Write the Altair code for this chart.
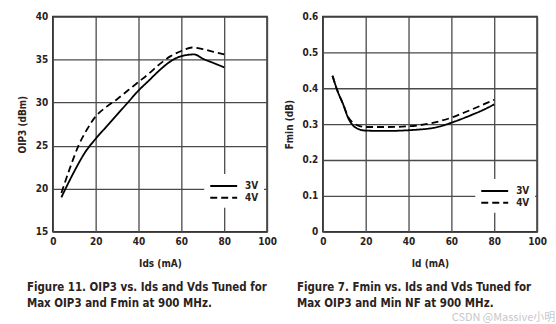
import altair as alt
import pandas as pd

# ---- data ----
oip3_x_3v = [4, 10, 15, 20, 25, 30, 35, 40, 45, 50, 55, 60, 66, 70, 75, 80]
oip3_y_3v = [19.0, 22.0, 24.2, 25.8, 27.2, 28.6, 30.0, 31.4, 32.6, 33.8, 34.8, 35.4, 35.6, 35.1, 34.6, 34.1]
oip3_x_4v = [4, 8, 12, 16, 20, 25, 30, 35, 40, 45, 50, 55, 60, 65, 70, 75, 80]
oip3_y_4v = [19.5, 22.4, 25.0, 26.9, 28.4, 29.5, 30.4, 31.4, 32.4, 33.4, 34.5, 35.4, 36.0, 36.4, 36.2, 35.9, 35.6]

fmin_x_3v = [4.5, 7, 9.5, 12, 14, 16, 20, 30, 40, 45, 50, 55, 60, 65, 70, 75, 80]
fmin_y_3v = [0.435, 0.39, 0.355, 0.315, 0.297, 0.288, 0.282, 0.281, 0.283, 0.285, 0.288, 0.294, 0.304, 0.315, 0.327, 0.340, 0.355]
fmin_x_4v = [4.5, 7, 9.5, 12, 14, 16, 20, 30, 40, 45, 50, 55, 60, 65, 70, 75, 80]
fmin_y_4v = [0.435, 0.39, 0.355, 0.318, 0.304, 0.297, 0.292, 0.292, 0.294, 0.297, 0.302, 0.309, 0.318, 0.330, 0.342, 0.355, 0.368]

series_names = ["3V", "4V"]
x_ticks = [0, 20, 40, 60, 80, 100]
oip3_ticks = [15, 20, 25, 30, 35, 40]
fmin_ticks = [0, 0.1, 0.2, 0.3, 0.4, 0.5, 0.6]

caption_left = ["Figure 11.  OIP3 vs. Ids and Vds Tuned for", "Max OIP3 and Fmin at 900 MHz."]
caption_right = ["Figure 7.  Fmin vs. Ids and Vds Tuned for", "Max OIP3 and Min NF at 900 MHz."]
watermark = "CSDN @Massive小明"

FONT = "DejaVu Sans Condensed, sans-serif"
TXT = "#2a221c"


def frame(xs3, ys3, xs4, ys4):
    rows = [{"x": a, "y": b, "s": series_names[0]} for a, b in zip(xs3, ys3)]
    rows += [{"x": a, "y": b, "s": series_names[1]} for a, b in zip(xs4, ys4)]
    return pd.DataFrame(rows)


df_left = frame(oip3_x_3v, oip3_y_3v, oip3_x_4v, oip3_y_4v)
df_right = frame(fmin_x_3v, fmin_y_3v, fmin_x_4v, fmin_y_4v)


def legend(lx, ly):
    return alt.Legend(
        title=None, orient="none", legendX=lx, legendY=ly,
        fillColor="white", padding=5, rowPadding=-1,
        symbolType="M-1,0H3.5", symbolSize=144, symbolStrokeWidth=2,
        symbolStrokeColor="black", labelFont=FONT, labelFontSize=10,
        labelFontWeight="bold", labelColor=TXT, labelOffset=22,
    )


def panel(df, ydom, yticks, ytitle, xtitle, caption, lx, ly, ylabelexpr=None):
    yaxis_kw = dict(values=yticks, title=ytitle)
    if ylabelexpr:
        yaxis_kw["labelExpr"] = ylabelexpr
    return alt.Chart(df).mark_line(strokeWidth=1.8, interpolate="monotone").encode(
        x=alt.X("x:Q", scale=alt.Scale(domain=[0, 100], nice=False),
                axis=alt.Axis(values=x_ticks, title=xtitle)),
        y=alt.Y("y:Q", scale=alt.Scale(domain=ydom, nice=False, zero=False),
                axis=alt.Axis(**yaxis_kw)),
        strokeDash=alt.StrokeDash("s:N", scale=alt.Scale(domain=series_names, range=[[1, 0], [7, 4]]),
                                  legend=legend(lx, ly)),
        color=alt.value("black"),
    ).properties(
        width=215, height=216,
        title=alt.TitleParams(text=caption, orient="bottom", anchor="start", frame="group",
                              fontSize=11.5, fontWeight="bold", font=FONT, color=TXT,
                              dx=-26, offset=13, lineHeight=17),
    )


left = panel(df_left, [15, 40], oip3_ticks, "OIP3 (dBm)", "Ids (mA)", caption_left, 152, 158)
right = panel(df_right, [0, 0.6], fmin_ticks, "Fmin (dB)", "Id (mA)", caption_right, 153, 163,
              ylabelexpr="datum.value == 0 ? '0' : format(datum.value, '.1f')")

chart = alt.hconcat(left, right, spacing=5).resolve_scale(
    strokeDash="independent"
).resolve_legend(
    strokeDash="independent"
).properties(
    padding={"left": 16, "top": 10, "right": 0, "bottom": 0},
    background="white",
    title=alt.TitleParams(text=watermark, orient="bottom", anchor="end", offset=1, dx=8,
                          font="Noto Sans CJK SC", fontSize=11, fontWeight="normal", color="#c8c8c8"),
).configure_view(
    stroke="#222", strokeWidth=1.5,
).configure_axis(
    grid=True, gridColor="#4a4a4a", gridWidth=1.3, domain=False, ticks=False,
    labelFont=FONT, labelFontSize=10, labelFontWeight="bold", labelColor=TXT, labelPadding=5,
    titleFont=FONT, titleFontSize=10, titleFontWeight="bold", titleColor=TXT,
).configure_axisX(
    titlePadding=12, labelFlush=False,
).configure_axisY(
    titlePadding=8, labelFlush=False,
)

chart.save("out.html", embed_options={"renderer": "svg", "actions": False})
